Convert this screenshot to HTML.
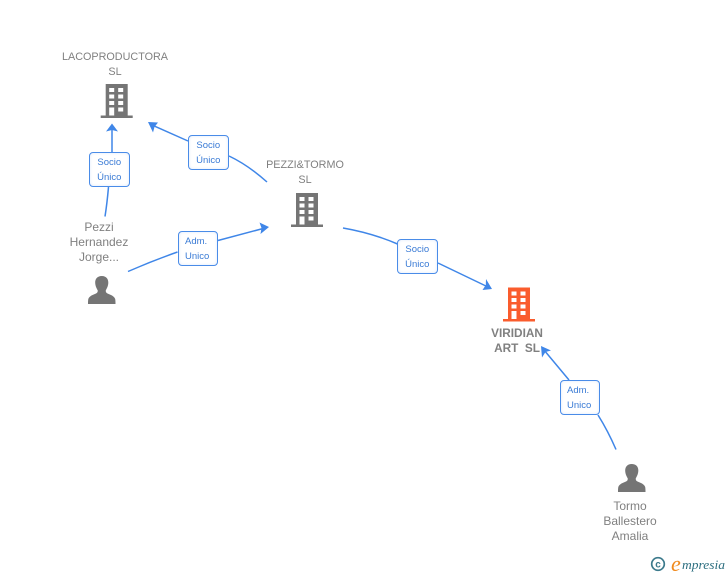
<!DOCTYPE html>
<html><head><meta charset="utf-8"><style>
html,body{margin:0;padding:0;background:#fff;}
#p{position:relative;width:728px;height:575px;overflow:hidden;font-family:"Liberation Sans",sans-serif;}
svg{position:absolute;left:0;top:0;}
.t{position:absolute;text-align:center;color:#808080;white-space:pre;}
.n{font-size:10.8px;line-height:15px;}
.m{font-size:12px;line-height:15px;}
.b{position:absolute;width:38.5px;height:32.5px;border:1.4px solid #4a8ce8;border-radius:4px;background:#fff;box-shadow:inset 0 0 3px #dfeafa;font-size:9.5px;line-height:15px;color:#3a7bd5;box-sizing:content-box;}
.b span{position:absolute;left:0;right:0;white-space:pre;}
</style></head><body><div id="p">
<svg width="728" height="575" viewBox="0 0 728 575">
<defs>
<g id="win" fill="#fff">
<rect x="8.500" y="4" width="5" height="4"/><rect x="17.500" y="4" width="5" height="4"/>
<rect x="8.500" y="10.500" width="5" height="4"/><rect x="17.500" y="10.500" width="5" height="4"/>
<rect x="8.500" y="17" width="5" height="4"/><rect x="17.500" y="17" width="5" height="4"/>
<rect x="8.500" y="23.500" width="5" height="8"/><rect x="17.500" y="23.500" width="5" height="4"/>
</g>
<g id="bld">
<rect x="5" y="0" width="22" height="32" fill="#757575"/>
<rect x="0" y="31.500" width="32" height="2.500" fill="#757575"/>
<use href="#win"/>
</g>
<path id="per" d="M13.800 0C9 0 7 3.300 7.200 7C7.400 10.500 8.900 12.800 9.700 14.300C9.900 15.800 9.500 16.800 8 17.500C5 18.800 1.500 19.800 0.300 23C0 24.800 0 26.500 0 28L27.500 28C27.500 26.500 27.500 24.800 27.200 23C26 19.800 22.500 18.800 19.500 17.500C18 16.800 17.600 15.800 17.800 14.300C18.600 12.800 20.100 10.500 20.300 7C20.500 3.300 18.500 0 13.800 0Z" fill="#757575"/>
</defs>
<g fill="none" stroke="#3f86e8" stroke-width="1.500">
<path d="M105 216.500Q107 204 108.500 187"/>
<path d="M112 152L112 127"/>
<path d="M267 182Q248 165 229 156"/>
<path d="M188 141L152 125"/>
<path d="M128 271.500Q152 261 177.500 252"/>
<path d="M218 240.500L265 228"/>
<path d="M343 228Q372 233 397.500 244"/>
<path d="M438 263L488 287"/>
<path d="M616 449.500Q608 431 598 415"/>
<path d="M569 380L544 350"/>
</g>
<g fill="#3f86e8">
<path d="M112 123.500L118 131.500L112 130L106 131.500Z"/>
<path d="M148 122L158 122.500L154.500 127L153 132.500Z"/>
<path d="M269 227L259.500 222.500L261.500 228L260.500 234Z"/>
<path d="M492 289L486 279L485.800 285L482.500 290Z"/>
<path d="M541 346L551 350.500L545.500 352L542 357.500Z"/>
</g>
<use href="#bld" x="100.700" y="84"/>
<use href="#bld" x="291" y="193"/>
<g transform="translate(503,287.500)">
<rect x="5" y="0" width="22" height="32" fill="#fa5c2d"/>
<rect x="0" y="31.500" width="32" height="2.500" fill="#fa5c2d"/>
<use href="#win"/>
</g>
<use href="#per" x="88" y="276"/>
<use href="#per" x="618" y="464"/>
<circle cx="658" cy="564" r="6.300" fill="none" stroke="#3c7a8c" stroke-width="1.700"/>
<text x="658" y="567.500" font-family="Liberation Sans" font-size="10" font-weight="bold" text-anchor="middle" fill="#3c7a8c">c</text>
<text x="671" y="571" font-family="Liberation Serif" font-style="italic" font-size="22" fill="#f08a1d">e</text>
<text x="682" y="569" font-family="Liberation Serif" font-style="italic" font-size="13" fill="#2d6f80" textLength="43" lengthAdjust="spacingAndGlyphs">mpresia</text>
</svg>

<div class="t n" style="left:45px;width:140px;top:49.500px;">LACOPRODUCTORA
SL</div>
<div class="t n" style="left:235px;width:140px;top:157.500px;">PEZZI&amp;TORMO
SL</div>
<div class="t n" style="left:447px;width:140px;top:325.500px;font-weight:bold;font-size:11.8px;">VIRIDIAN
ART  SL</div>
<div class="t m" style="left:29px;width:140px;top:220px;">Pezzi
Hernandez
Jorge...</div>
<div class="t m" style="left:560px;width:140px;top:498.500px;">Tormo
Ballestero
Amalia</div>

<div class="b" style="left:89px;top:152px;"><span style="top:2px;text-align:center;">Socio</span><span style="top:17px;text-align:center;">Único</span></div>
<div class="b" style="left:188px;top:135px;"><span style="top:2px;text-align:center;">Socio</span><span style="top:17px;text-align:center;">Único</span></div>
<div class="b" style="left:177.500px;top:231px;"><span style="top:2px;left:6.500px;">Adm.</span><span style="top:17px;left:6.500px;">Unico</span></div>
<div class="b" style="left:397px;top:239px;"><span style="top:2px;text-align:center;">Socio</span><span style="top:17px;text-align:center;">Único</span></div>
<div class="b" style="left:559.500px;top:380px;"><span style="top:2px;left:6.500px;">Adm.</span><span style="top:17px;left:6.500px;">Unico</span></div>
</div></body></html>
